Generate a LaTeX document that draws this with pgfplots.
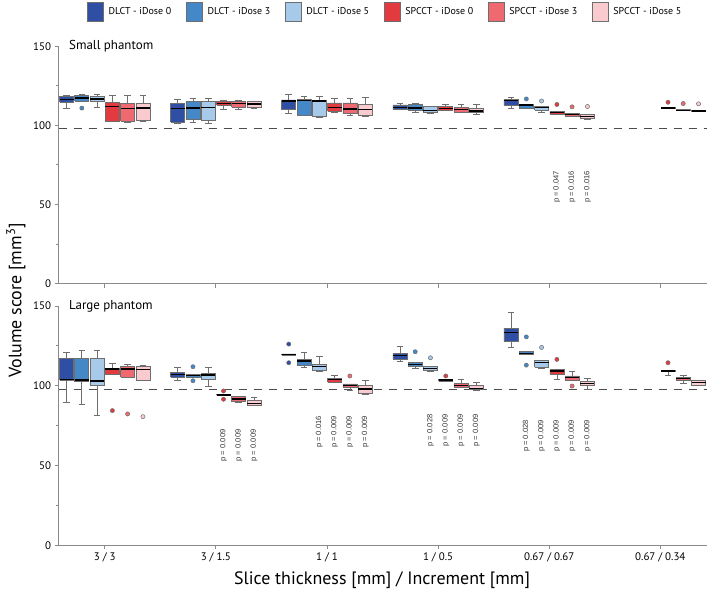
\documentclass[border=0pt]{standalone}
\usepackage{fontspec}
\setmainfont{PT Sans}
\newfontfamily\pfont{Liberation Sans}
\usepackage{pgfplots}
\pgfplotsset{compat=1.18}
\definecolor{cA}{HTML}{2E4FA3}
\definecolor{cB}{HTML}{4488C8}
\definecolor{cC}{HTML}{A8CAEA}
\definecolor{cD}{HTML}{E23A3F}
\definecolor{cE}{HTML}{EE6A70}
\definecolor{cF}{HTML}{F9CACE}
\definecolor{boxgray}{HTML}{6E6E6E}
\definecolor{axgray}{HTML}{8A8A8A}
% color, position, lower whisker, q1, median, q3, upper whisker
\newcommand{\bx}[7]{%
\pgfmathsetmacro\xl{#2-0.063}\pgfmathsetmacro\xr{#2+0.063}%
\pgfmathsetmacro\wl{#2-0.03}\pgfmathsetmacro\wr{#2+0.03}%
\edef\tmp{%
\noexpand\addplot[boxgray, line width=0.7bp] coordinates {(#2,#3) (#2,#7)};
\noexpand\addplot[boxgray, line width=0.7bp] coordinates {(\wl,#3) (\wr,#3)};
\noexpand\addplot[boxgray, line width=0.7bp] coordinates {(\wl,#7) (\wr,#7)};
\noexpand\addplot[fill=#1, draw=boxgray, line width=0.7bp] coordinates {(\xl,#4) (\xr,#4) (\xr,#6) (\xl,#6) (\xl,#4)};
\noexpand\addplot[black, line width=1.3bp] coordinates {(\xl,#5) (\xr,#5)};
}\tmp}
% color, points
\newcommand{\ol}[2]{\addplot[only marks, mark=*, mark size=2.1bp, mark options={fill=#1, draw=boxgray, line width=0.5bp}] coordinates {#2};}
\tikzset{pv/.style={rotate=90, anchor=west, font=\pfont\fontsize{7.6}{8}\selectfont, text=black!80}}
\pgfplotsset{
  panel/.style={
    scale only axis, width=648.5bp,
    xmin=-0.416, xmax=5.42, ymin=0, ymax=150,
    axis lines*=left, axis line style={axgray, line width=0.8bp},
    tick align=outside, major tick length=4bp, minor tick length=2.5bp,
    tick style={axgray, line width=0.8bp},
    xtick={0,1,2,3,4,5}, ytick={0,50,100,150}, minor y tick num=1,
    /pgf/number format/assume math mode=true,
    tick label style={font=\fontsize{11}{12}\selectfont},
    clip=false,
  },
}
\begin{document}
\begin{tikzpicture}
% ---------------- top panel ----------------
\begin{axis}[panel, height=237.3bp, at={(58.5bp,317.7bp)}, anchor=south west,
  xticklabels={},
  legend columns=6,
  legend style={at={(0.504,1.145)}, anchor=center, draw=none, fill=none,
    font=\fontsize{10}{11}\selectfont,
    nodes={inner xsep=2bp},
    /tikz/every odd column/.append style={column sep=3bp},
    /tikz/every even column/.append style={column sep=13bp}},
  legend image code/.code={\draw[#1] (0bp,-9.5bp) rectangle (15.5bp,9.5bp);},
]
\addlegendimage{fill=cA, draw=boxgray, line width=0.7bp}\addlegendentry{DLCT - iDose 0}
\addlegendimage{fill=cB, draw=boxgray, line width=0.7bp}\addlegendentry{DLCT - iDose 3}
\addlegendimage{fill=cC, draw=boxgray, line width=0.7bp}\addlegendentry{DLCT - iDose 5}
\addlegendimage{fill=cD, draw=boxgray, line width=0.7bp}\addlegendentry{SPCCT - iDose 0}
\addlegendimage{fill=cE, draw=boxgray, line width=0.7bp}\addlegendentry{SPCCT - iDose 3}
\addlegendimage{fill=cF, draw=boxgray, line width=0.7bp}\addlegendentry{SPCCT - iDose 5}
\addplot[dashed, dash pattern=on 8bp off 7bp, black!70, line width=0.8bp] coordinates {(-0.416,98) (5.42,98)};
% 3/3
\bx{cA}{-0.344}{110.9}{114.6}{116.3}{118.4}{119.2}
\bx{cB}{-0.206}{115.4}{115.4}{117.3}{118.8}{119.5}
\bx{cC}{-0.069}{111.5}{115.1}{116.7}{118.4}{119.5}
\bx{cD}{0.069}{102.7}{102.7}{112.1}{114.6}{118.8}
\bx{cE}{0.206}{101.9}{102.7}{110.7}{114.0}{118.8}
\bx{cF}{0.344}{102.5}{103.1}{111.0}{114.0}{118.8}
% 3/1.5
\bx{cA}{0.656}{101.4}{102.1}{110.7}{114.0}{116.3}
\bx{cB}{0.794}{102.1}{104.1}{111.0}{115.3}{117.3}
\bx{cC}{0.931}{101.0}{102.9}{111.3}{115.3}{117.3}
\bx{cD}{1.069}{110.2}{112.6}{114.0}{115.1}{116.1}
\bx{cE}{1.206}{110.4}{111.5}{113.6}{115.1}{115.7}
\bx{cF}{1.344}{111.0}{111.3}{113.4}{115.4}{115.4}
% 1/1
\bx{cA}{1.656}{107.7}{110.0}{115.4}{116.1}{119.5}
\bx{cB}{1.794}{106.3}{106.3}{115.9}{116.5}{118.2}
\bx{cC}{1.931}{105.0}{105.4}{115.4}{115.9}{118.2}
\bx{cD}{2.069}{108.2}{109.0}{111.5}{114.2}{116.9}
\bx{cE}{2.206}{106.3}{107.3}{110.4}{114.2}{117.3}
\bx{cF}{2.344}{106.0}{106.5}{110.2}{113.2}{117.6}
% 1/0.5
\bx{cA}{2.656}{109.8}{109.8}{111.5}{112.9}{113.8}
\bx{cB}{2.794}{108.2}{109.2}{110.9}{113.2}{113.8}
\bx{cC}{2.931}{107.5}{108.2}{109.4}{111.9}{111.9}
\bx{cD}{3.069}{109.2}{109.2}{110.7}{111.9}{113.4}
\bx{cE}{3.206}{108.2}{108.3}{109.8}{111.3}{113.4}
\bx{cF}{3.344}{107.1}{107.9}{109.0}{110.9}{113.4}
% 0.67/0.67
\bx{cA}{3.656}{110.9}{112.6}{115.8}{116.3}{117.6}
\bx{cB}{3.794}{110.7}{110.7}{112.9}{113.4}{113.4}
\bx{cC}{3.931}{108.5}{109.6}{111.3}{111.9}{111.9}
\bx{cD}{4.069}{106.9}{106.9}{107.9}{109.0}{109.0}
\bx{cE}{4.206}{105.4}{106.0}{106.9}{107.5}{107.5}
\bx{cF}{4.344}{104.1}{104.6}{105.8}{106.9}{106.9}
% 0.67/0.34
\bx{cD}{5.069}{110.6}{110.6}{111.0}{111.4}{111.4}
\bx{cE}{5.206}{109.4}{109.4}{109.6}{109.8}{109.8}
\bx{cF}{5.344}{108.8}{108.8}{109.0}{109.2}{109.2}
% outliers
\ol{cB}{(-0.206,110.9) (3.794,116.7)}
\ol{cC}{(3.931,115.4)}
\ol{cD}{(4.069,113.2) (5.069,114.6)}
\ol{cE}{(4.206,111.7) (5.206,113.8)}
\ol{cF}{(4.344,111.9) (5.344,113.6)}
\node[anchor=west, font=\fontsize{13}{15}\selectfont] at (rel axis cs:0.011,1) {Small phantom};
\node[pv] at (axis cs:4.069,48.7) {p = 0.047};
\node[pv] at (axis cs:4.206,48.7) {p = 0.016};
\node[pv] at (axis cs:4.344,48.7) {p = 0.016};
\end{axis}
% ---------------- bottom panel ----------------
\begin{axis}[panel, height=239.3bp, at={(58.5bp,56bp)}, anchor=south west,
  xticklabels={{3 / 3},{3 / 1.5},{1 / 1},{1 / 0.5},{0.67 / 0.67},{0.67 / 0.34}},
]
\addplot[dashed, dash pattern=on 8bp off 7bp, black!70, line width=0.8bp] coordinates {(-0.416,98) (5.42,98)};
% 3/3
\bx{cA}{-0.344}{89.6}{103.6}{103.8}{117.1}{120.9}
\bx{cB}{-0.206}{88.4}{102.5}{103.6}{117.1}{122.3}
\bx{cC}{-0.069}{81.7}{100.4}{102.9}{117.1}{122.3}
\bx{cD}{0.069}{107.1}{107.1}{110.5}{110.9}{114.0}
\bx{cE}{0.206}{105.2}{105.2}{110.5}{112.3}{113.3}
\bx{cF}{0.344}{103.6}{103.6}{110.2}{112.3}{112.5}
% 3/1.5
\bx{cA}{0.656}{103.1}{105.2}{107.1}{108.4}{111.5}
\bx{cB}{0.794}{105.2}{105.2}{106.3}{107.1}{107.1}
\bx{cC}{0.931}{99.8}{104.0}{106.7}{107.7}{111.5}
\bx{cD}{1.069}{94.0}{94.0}{94.2}{94.5}{94.5}
\bx{cE}{1.206}{89.4}{90.0}{91.7}{93.1}{93.5}
\bx{cF}{1.344}{87.6}{87.9}{89.0}{91.1}{92.5}
% 1/1
\bx{cA}{1.656}{119.3}{119.3}{119.6}{119.9}{119.9}
\bx{cB}{1.794}{111.3}{112.9}{115.4}{116.7}{120.9}
\bx{cC}{1.931}{109.2}{109.8}{111.9}{113.4}{118.1}
\bx{cD}{2.069}{102.1}{102.1}{103.7}{104.6}{106.7}
\bx{cE}{2.206}{97.3}{99.0}{100.0}{101.1}{101.1}
\bx{cF}{2.344}{94.8}{95.2}{97.9}{100.0}{103.6}
% 1/0.5
\bx{cA}{2.656}{115.4}{116.7}{118.8}{120.2}{124.4}
\bx{cB}{2.794}{110.9}{111.9}{113.1}{114.6}{114.6}
\bx{cC}{2.931}{109.2}{109.8}{110.9}{111.9}{111.9}
\bx{cD}{3.069}{102.9}{102.9}{103.5}{104.2}{104.2}
\bx{cE}{3.206}{99.0}{99.0}{100.1}{101.5}{104.0}
\bx{cF}{3.344}{97.3}{97.7}{98.1}{100.0}{101.9}
% 0.67/0.67
\bx{cA}{3.656}{124.0}{127.9}{133.3}{135.9}{146.3}
\bx{cB}{3.794}{119.6}{119.6}{120.2}{121.7}{121.7}
\bx{cC}{3.931}{111.0}{111.5}{114.6}{116.1}{116.1}
\bx{cD}{4.069}{104.3}{107.1}{109.2}{110.4}{110.4}
\bx{cE}{4.206}{103.1}{103.1}{105.2}{106.1}{108.8}
\bx{cF}{4.344}{97.9}{100.0}{101.5}{102.9}{104.6}
% 0.67/0.34
\bx{cD}{5.069}{106.7}{108.8}{109.2}{109.5}{109.5}
\bx{cE}{5.206}{101.5}{103.6}{104.6}{105.2}{106.7}
\bx{cF}{5.344}{100.0}{100.0}{101.9}{103.6}{103.6}
% outliers
\ol{cA}{(1.656,126.1) (1.656,114.4)}
\ol{cB}{(0.794,111.9) (0.794,103.1) (2.794,121.3) (3.794,130.6) (3.794,112.9)}
\ol{cC}{(2.931,117.5) (3.931,124.0)}
\ol{cD}{(0.069,84.4) (1.069,96.7) (1.069,91.5) (3.069,106.1) (4.069,116.5) (5.069,114.4)}
\ol{cE}{(0.206,82.3) (2.206,106.1) (4.206,99.8)}
\ol{cF}{(0.344,80.6)}
\node[anchor=west, font=\fontsize{13}{15}\selectfont] at (rel axis cs:0.011,1) {Large phantom};
\node[pv] at (axis cs:1.069,50.4) {p = 0.009};
\node[pv] at (axis cs:1.206,50.4) {p = 0.009};
\node[pv] at (axis cs:1.344,50.4) {p = 0.009};
\node[pv] at (axis cs:1.931,58.8) {p = 0.016};
\node[pv] at (axis cs:2.069,58.8) {p = 0.009};
\node[pv] at (axis cs:2.206,58.8) {p = 0.009};
\node[pv] at (axis cs:2.344,58.8) {p = 0.009};
\node[pv] at (axis cs:2.931,59.8) {p = 0.028};
\node[pv] at (axis cs:3.069,59.8) {p = 0.009};
\node[pv] at (axis cs:3.206,59.8) {p = 0.009};
\node[pv] at (axis cs:3.344,59.8) {p = 0.009};
\node[pv] at (axis cs:3.794,56.3) {p = 0.028};
\node[pv] at (axis cs:3.931,56.3) {p = 0.009};
\node[pv] at (axis cs:4.069,56.3) {p = 0.009};
\node[pv] at (axis cs:4.206,56.3) {p = 0.009};
\node[pv] at (axis cs:4.344,56.3) {p = 0.009};
\end{axis}
\node[rotate=90, font=\fontsize{18}{20}\selectfont] at (16bp,301bp) {Volume score [mm\textsuperscript{3}]};
\node[font=\fontsize{18}{20}\selectfont] at (382bp,21bp) {Slice thickness [mm] / Increment [mm]};
\path (0,0) rectangle (708bp,601bp);
\end{tikzpicture}
\end{document}
